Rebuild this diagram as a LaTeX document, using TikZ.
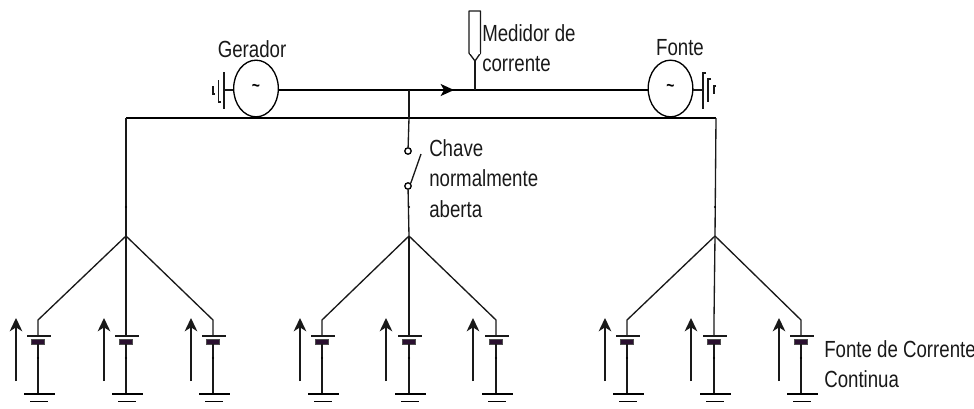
\documentclass[tikz,border=0pt]{standalone}
\usepackage{fontspec}
\setmainfont[FakeStretch=0.8]{Liberation Sans}
\usetikzlibrary{arrows.meta,shapes.geometric}
\definecolor{cellc}{HTML}{2A1030}
\tikzset{
  x=0.75pt,y=-0.75pt,
  wire/.style={line width=1pt,black!90},
  bus/.style={line width=1.35pt,black},
  gnd/.style={line width=1.1pt,black},
  lab/.style={inner sep=0pt,align=left,anchor=west,font=\fontsize{17.5}{22.9}\selectfont,text=black!90},
  gen/.style={draw,ellipse,line width=1pt,minimum width=33.5pt,minimum height=42.5pt,inner sep=0pt,font=\fontsize{13}{13}\selectfont\bfseries},
  contact/.style={draw,circle,line width=1pt,minimum size=4.8pt,inner sep=0pt},
  cell/.style={fill=cellc,draw=black!70,line width=0.3pt,minimum width=9.5pt,minimum height=3.6pt,inner sep=0pt},
  vmark/.style={-{Stealth[length=10pt,width=9.5pt,inset=3pt]},line width=1pt,black!90},
  dotm/.style={circle,fill=black,inner sep=0pt,minimum size=1.8pt}
}
\begin{document}
\begin{tikzpicture}
\useasboundingbox (0,0) rectangle (974,408);
% generators
\node[gen] (g) at (256,88.5) {\raisebox{1pt}{\textasciitilde}};
\node[gen] (f) at (670.5,88.5) {\raisebox{1pt}{\textasciitilde}};
\node[lab,anchor=center] (gl) at (252,49) {Gerador};
\node[lab,anchor=center] (fl) at (680,48) {Fonte};
% left earth
\coordinate (gs) at (224,90);
\draw[wire] (233.2,90) -- (gs);
\draw[wire] (224,72) -- (224,109);
\draw[wire] (218.5,80) -- (218.5,102) -- (221,102);
\draw[wire] (213,86) -- (213,94) -- (215,94);
% right earth
\coordinate (fs) at (703,90);
\draw[wire] (693.3,90) -- (fs);
\draw[wire] (706,73) -- (703,73) -- (703,109);
\draw[wire] (711,79) -- (708,79) -- (708,102);
\draw[wire] (716,86) -- (714,86) -- (714,94);
% main line
\coordinate (gm) at (278.8,90);
\coordinate (fm) at (647.7,90);
\coordinate (arr) at (454,90);
\coordinate (tap) at (409,90);
\coordinate (mt) at (475,90);
\draw[bus] (gm) -- (fm);
\draw[bus,-{Stealth[length=10pt,width=9pt,inset=2.5pt]}] (tap) -- (arr);
% meter
\node[inner sep=0pt,minimum size=0pt] (mp) at (475,61) {};
\draw[wire,line join=round] (469,53) -- (469,11) -- (480.5,11) -- (480.5,53) -- (mp.center) -- cycle;
\fill[white] (469.6,52.4) -- (479.9,52.4) -- (479.9,54) -- (469.6,54) -- cycle;
\draw[wire] (mp.center) -- (mt);
\node[lab] (ml) at (482,48) {Medidor de\\corrente};
% bus
\coordinate (bl) at (126,118);
\coordinate (bm) at (409,118);
\coordinate (br) at (716,118);
\draw[bus] (bl) -- (br);
\draw[wire] (tap) -- (bm);
% switch
\node[contact] (c1) at (408,151) {};
\node[contact] (c2) at (408,186) {};
\coordinate (bt) at (421,154);
\draw[wire] (bm) -- (c1);
\draw[wire] (c2.north east) -- (bt);
\node[lab] (cl) at (429,178.5) {Chave\\normalmente\\aberta};
% branches
\foreach \n/\cx/\top/\a/\b/\c/\aa/\ab/\ac in {L/126/bl/38/126/213/16/104/191,
   M/409/c2/322/409/496/300/386/473,
   R/715/br/627/714/801/605/691/779}{
  \coordinate (h\n) at (\cx,236);
  \draw[wire] (\top) -- (h\n);
  \node[dotm] at (\cx,207) {};
  \foreach \k/\bx/\ax in {1/\a/\aa,2/\b/\ab,3/\c/\ac}{
    \coordinate (p\n\k) at (\bx,336);
    \coordinate (e\n\k) at (\bx,394);
    \draw[wire] (h\n) -- (\bx,320) -- (p\n\k);
    \draw[wire] (\bx-11,336) -- (\bx+13,336);
    \node[cell] (q\n\k) at (\bx,341.5) {};
    \draw[wire] (q\n\k) -- (e\n\k);
    \node[dotm] at (\bx,358) {};
    \draw[gnd] (\bx-14,394) -- (\bx+17,394);
    \draw[gnd] (\bx-8,401.7) -- (\bx+10,401.7);
    \coordinate (as\n\k) at (\ax,381);
    \coordinate (at\n\k) at (\ax,318);
    \draw[vmark] (as\n\k) -- (at\n\k);
  }
}
\node[lab] (dc) at (824,364) {Fonte de Corrente\\Continua};
\end{tikzpicture}
\end{document}
